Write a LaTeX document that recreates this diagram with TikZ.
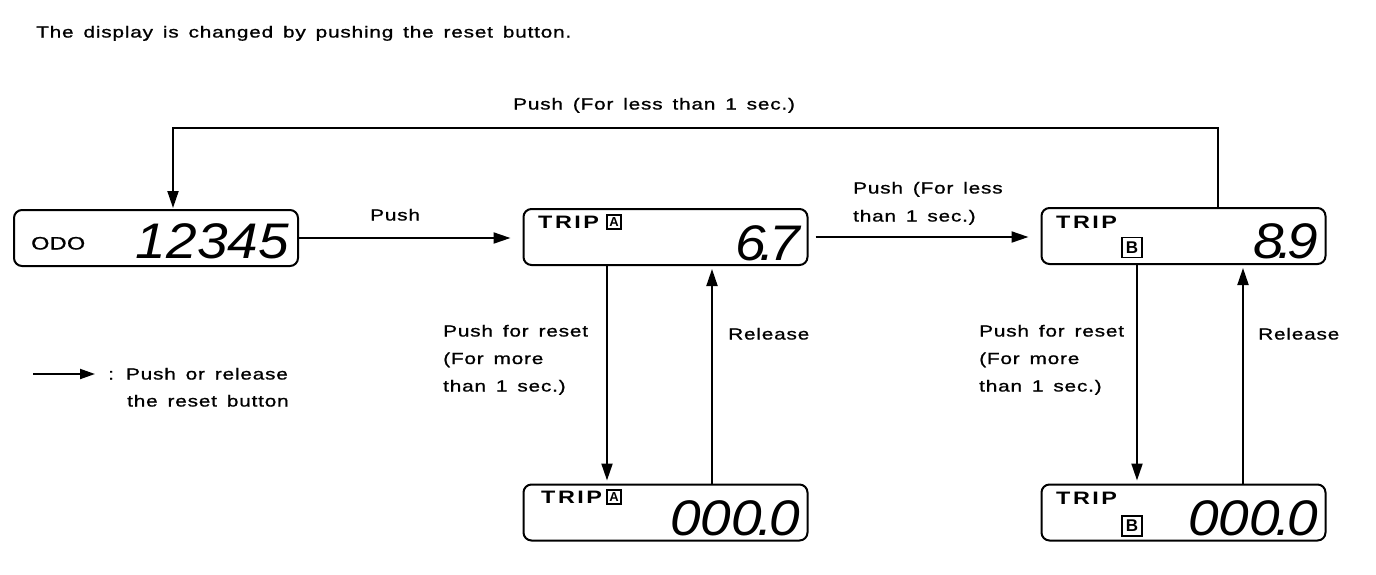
\documentclass[tikz,border=0pt]{standalone}
\usepackage{fontspec}
\setmainfont{Liberation Sans}
\newfontfamily\labf{Liberation Sans}[FakeStretch=1.3,LetterSpace=5,WordSpace=1.5,FakeBold=1]
\newfontfamily\odof{Liberation Sans}[FakeStretch=1.3,LetterSpace=2,FakeBold=1]
\newfontfamily\tripf{Liberation Sans}[FakeStretch=1.3,LetterSpace=14]
\newfontfamily\segf{Liberation Sans}[FakeStretch=1.1]
\usetikzlibrary{arrows.meta}
\tikzset{
  disp/.style={draw, line width=2pt, rounded corners=8pt, minimum width=284pt, minimum height=56pt, inner sep=0pt},
  arr/.style={line width=2pt, -{Triangle[length=17pt,width=11pt]}},
  lbl/.style={font=\labf\fontsize{16}{18}\selectfont, inner sep=0pt, anchor=base west, align=left},
  odotxt/.style={font=\odof\fontsize{18}{18}\selectfont, inner sep=0pt, anchor=base west},
  triptxt/.style={font=\tripf\bfseries\fontsize{18}{18}\selectfont, inner sep=0pt, anchor=base west},
  seg/.style={font=\segf\itshape\fontsize{50}{50}\selectfont, inner sep=0pt, anchor=base east},
  boxa/.style={draw, line width=1.4pt, minimum size=14pt, inner sep=0pt, font=\bfseries\fontsize{13}{13}\selectfont},
  boxb/.style={draw, line width=1.8pt, minimum size=20pt, inner sep=0pt, font=\bfseries\fontsize{17}{17}\selectfont},
}
\begin{document}
\begin{tikzpicture}[x=1pt,y=-1pt]
\useasboundingbox (0,0) rectangle (1376,574);

% title
\node[lbl] (title) at (36,37.5) {The display is changed by pushing the reset button.};

% displays
\node[disp] (odo)   at (156,238) {};
\node[disp] (tripa) at (665.5,237) {};
\node[disp] (tripb) at (1183.5,236) {};
\node[disp] (tripa0) at (665.5,512.5) {};
\node[disp] (tripb0) at (1183.5,512.5) {};

% display contents
\node[odotxt] (odolbl) at (31,249.5) {ODO};
\node[seg] (odonum) at (289,258) {12345};

\node[triptxt] (talbl) at (538,228.5) {TRIP};
\node[boxa] (taA) at (614,222) {A};
\node[seg] (tanum) at (800,260) {6\kern-6pt.\kern-6pt7};

\node[triptxt] (tblbl) at (1056,228.5) {TRIP};
\node[boxb] (tbB) at (1132,247.5) {B};
\node[seg] (tbnum) at (1318,258) {8\kern-6pt.\kern-6pt9};

\node[triptxt] (ta0lbl) at (541,503.5) {TRIP};
\node[boxa] (ta0A) at (614,497) {A};
\node[seg] (ta0num) at (800,535) {000\kern-4pt.\kern-4pt0};

\node[triptxt] (tb0lbl) at (1056,504) {TRIP};
\node[boxb] (tb0B) at (1132,526) {B};
\node[seg] (tb0num) at (1318,535) {000\kern-4pt.\kern-4pt0};

% connectors
\draw[arr, shorten >=12pt] (odo.east) -- (odo.east -| tripa.west);
\draw[arr, shorten <=7pt, shorten >=12pt] (tripa.east) -- (tripa.east -| tripb.west);

\coordinate (loopy) at (0,128);
\coordinate (bt) at ([xshift=34.5pt]tripb.north);
\coordinate (ot) at ([xshift=17pt]odo.north);
\draw[arr, shorten >=1pt] (bt) -- (bt |- loopy) -| (ot);

\coordinate (ad1) at ([xshift=-58.5pt]tripa.south);
\coordinate (ad2) at ([xshift=-58.5pt]tripa0.north);
\coordinate (au1) at ([xshift=46.5pt]tripa0.north);
\coordinate (au2) at ([xshift=46.5pt]tripa.south);
\draw[arr, shorten >=3pt] (ad1) -- (ad2);
\draw[arr, shorten >=3pt] (au1) -- (au2);

\coordinate (bd1) at ([xshift=-46.5pt]tripb.south);
\coordinate (bd2) at ([xshift=-46.5pt]tripb0.north);
\coordinate (bu1) at ([xshift=59.5pt]tripb0.north);
\coordinate (bu2) at ([xshift=59.5pt]tripb.south);
\draw[arr, shorten >=3pt] (bd1) -- (bd2);
\draw[arr, shorten >=3pt] (bu1) -- (bu2);

% labels (base anchor = last line)
\node[lbl] (ltop) at (513,109.5) {Push (For less than 1 sec.)};
\node[lbl] (lpush) at (370,220.5) {Push};
\node[lbl] (lab) at (853,221.5) {Push (For less\\[10pt]than 1 sec.)};
\node[lbl] (lra) at (443,391.5) {Push for reset\\[9.5pt](For more\\[9.5pt]than 1 sec.)};
\node[lbl] (lrela) at (728,339.5) {Release};
\node[lbl] (lrb) at (979,391.5) {Push for reset\\[9.5pt](For more\\[9.5pt]than 1 sec.)};
\node[lbl] (lrelb) at (1258,339.5) {Release};

% legend
\coordinate (lg1) at (33,374);
\coordinate (lg2) at (95,374);
\draw[line width=2pt, -{Triangle[length=15pt,width=10pt]}] (lg1) -- (lg2);
\node[lbl] (lgtxt) at (108,406.5) {: Push or release\\[9pt]\hspace*{19pt}the reset button};
\end{tikzpicture}
\end{document}
